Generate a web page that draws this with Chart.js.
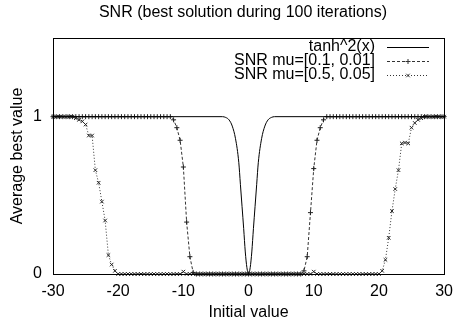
<!DOCTYPE html>
<html>
<head>
<meta charset="utf-8">
<script src="https://cdn.jsdelivr.net/npm/chart.js@4"></script>
<style>
	html, body { margin: 0; padding: 0; background: #fff; }
	#wrap { width: 461px; height: 326px; }
</style>
</head>
<body>
<div id="wrap"><canvas id="snr" width="461" height="326"></canvas></div>
<script>
// initial values used for the SNR runs (step 0.5)
const initX = [
	-30,-29.5,-29,-28.5,-28,-27.5,-27,-26.5,-26,-25.5,-25,-24.5,-24,-23.5,-23,-22.5,-22,-21.5,-21,-20.5,
	-20,-19.5,-19,-18.5,-18,-17.5,-17,-16.5,-16,-15.5,-15,-14.5,-14,-13.5,-13,-12.5,-12,-11.5,-11,-10.5,
	-10,-9.5,-9,-8.5,-8,-7.5,-7,-6.5,-6,-5.5,-5,-4.5,-4,-3.5,-3,-2.5,-2,-1.5,-1,-0.5,
	0,0.5,1,1.5,2,2.5,3,3.5,4,4.5,5,5.5,6,6.5,7,7.5,8,8.5,9,9.5,
	10,10.5,11,11.5,12,12.5,13,13.5,14,14.5,15,15.5,16,16.5,17,17.5,18,18.5,19,19.5,
	20,20.5,21,21.5,22,22.5,23,23.5,24,24.5,25,25.5,26,26.5,27,27.5,28,28.5,29,29.5,30
];

// SNR mu=[0.1, 0.01]
const snrLow = [
	1,1,1,1,1,1,1,1,1,1,1,1,1,1,1,1,1,1,1,1,
	1,1,1,1,1,1,1,1,1,1,1,1,1,1,1,1,1,0.98,0.93,0.85,
	0.68,0.33,0.11,0.01,0,0,0,0,0,0,0,0,0,0,0,0,0,0,0,0,
	0,0,0,0,0,0,0,0,0,0,0,0,0,0,0,0,0,0.02,0.11,0.39,
	0.67,0.85,0.93,0.98,1,1,1,1,1,1,1,1,1,1,1,1,1,1,1,1,
	1,1,1,1,1,1,1,1,1,1,1,1,1,1,1,1,1,1,1,1,1
];

// SNR mu=[0.5, 0.05]
const snrHigh = [
	1,1,1,1,1,1,1,0.99,0.98,0.97,0.95,0.88,0.88,0.66,0.58,0.46,0.34,0.12,0.06,0.02,
	0,0,0,0,0,0,0,0,0,0,0,0,0,0,0,0,0,0,0,0,
	0.015,0,0,0,0,0,0,0,0,0,0,0,0,0,0,0,0,0,0,0,
	0,0,0,0,0,0,0,0,0,0,0,0,0,0,0,0,0,0,0,0,
	0.015,0,0,0,0,0,0,0,0,0,0,0,0,0,0,0,0,0,0,0,
	0,0.02,0.09,0.23,0.40,0.54,0.66,0.83,0.835,0.83,0.93,0.96,0.98,0.99,1,1,1,1,1,1,1
];

// tanh^2(x) reference curve
const tanhX = [-30,-4,-3.5,-3,-2.5,-2,-1.5,-1.25,-1,-0.75,-0.5,-0.25,0,0.25,0.5,0.75,1,1.25,1.5,2,2.5,3,3.5,4,30];
const tanhY = [1,1,0.995,0.98,0.94,0.86,0.71,0.57,0.43,0.29,0.14,0.04,0,0.04,0.14,0.29,0.43,0.57,0.71,0.86,0.94,0.98,0.995,1,1];

const chartTitle = 'SNR (best solution during 100 iterations)';
const legendLabels = ['tanh^2(x)', 'SNR mu=[0.1, 0.01]', 'SNR mu=[0.5, 0.05]'];
const yTickValues = [0, 1];

const fontFamily = "'Liberation Sans', Arial, sans-serif";
const fontSize = 16;

function toPoints(xs, ys) {
	return xs.map(function(x, i) { return {x: x, y: ys[i]}; });
}

Chart.defaults.font.family = fontFamily;
Chart.defaults.font.size = fontSize;
Chart.defaults.color = '#000';

// frame around plot area, title and gnuplot style key in the top right
const framePlugin = {
	id: 'frame',
	afterDatasetsDraw(chart) {
		const ctx = chart.ctx;
		const a = chart.chartArea;
		ctx.save();
		ctx.strokeStyle = '#000';
		ctx.lineWidth = 1;
		ctx.setLineDash([]);
		ctx.strokeRect(Math.round(a.left) + 0.5, Math.round(a.top) + 0.5,
			Math.round(a.right - a.left), Math.round(a.bottom - a.top));

		ctx.font = fontSize + "px " + fontFamily;
		ctx.fillStyle = '#000';
		ctx.textBaseline = 'middle';
		ctx.textAlign = 'center';
		ctx.fillText(chartTitle, 243, 13);

		// key
		ctx.textAlign = 'right';
		const textRight = 375;
		const x0 = 387, x1 = 429;
		chart.data.datasets.forEach(function(ds, i) {
			const y = 47 + i * 14;
			ctx.fillText(legendLabels[i], textRight, y);
			ctx.strokeStyle = ds.borderColor;
			ctx.lineWidth = 1;
			ctx.setLineDash(ds.borderDash || []);
			ctx.beginPath();
			ctx.moveTo(x0, y + 0.5);
			ctx.lineTo(x1, y + 0.5);
			ctx.stroke();
			ctx.setLineDash([]);
			if (ds.pointRadius > 0) {
				Chart.helpers.drawPoint(ctx, {
					pointStyle: ds.pointStyle,
					radius: ds.pointRadius,
					borderWidth: 1
				}, (x0 + x1) / 2, y + 0.5);
			}
		});
		ctx.restore();
	}
};

new Chart(document.getElementById('snr'), {
	type: 'line',
	data: {
		datasets: [
			{
				label: legendLabels[0],
				data: toPoints(tanhX, tanhY),
				borderColor: '#000',
				borderWidth: 1,
				pointRadius: 0,
				cubicInterpolationMode: 'monotone',
				fill: false
			},
			{
				label: legendLabels[1],
				data: toPoints(initX, snrLow),
				borderColor: '#333',
				backgroundColor: '#333',
				borderWidth: 1,
				borderDash: [3, 2],
				pointStyle: 'cross',
				pointRadius: 2.5,
				pointBorderWidth: 1,
				pointBorderColor: '#222',
				fill: false
			},
			{
				label: legendLabels[2],
				data: toPoints(initX, snrHigh),
				borderColor: '#333',
				backgroundColor: '#333',
				borderWidth: 1,
				borderDash: [1, 2],
				pointStyle: 'crossRot',
				pointRadius: 2.5,
				pointBorderWidth: 1,
				pointBorderColor: '#222',
				fill: false
			}
		]
	},
	options: {
		responsive: false,
		animation: false,
		events: [],
		clip: false,
		layout: { padding: { left: 0, right: 10, top: 38, bottom: 0 } },
		plugins: {
			legend: { display: false },
			tooltip: { enabled: false },
			title: { display: false }
		},
		scales: {
			x: {
				type: 'linear',
				min: -30,
				max: 30,
				grid: { display: false, drawTicks: false },
				border: { display: false },
				ticks: { stepSize: 10, padding: 8, maxRotation: 0 },
				title: { display: true, text: 'Initial value', padding: { top: 0, bottom: 4 } },
				afterFit: function(scale) { scale.height = 52; }
			},
			y: {
				type: 'linear',
				min: 0,
				max: 1.5,
				grid: { display: false, drawTicks: false },
				border: { display: false },
				ticks: { padding: 11 },
				afterBuildTicks: function(scale) {
					scale.ticks = yTickValues.map(function(v) { return {value: v}; });
				},
				title: { display: true, text: 'Average best value', padding: { top: 8, bottom: 0 } },
				afterFit: function(scale) { scale.width = 53; }
			}
		}
	},
	plugins: [framePlugin]
});
</script>
</body>
</html>
